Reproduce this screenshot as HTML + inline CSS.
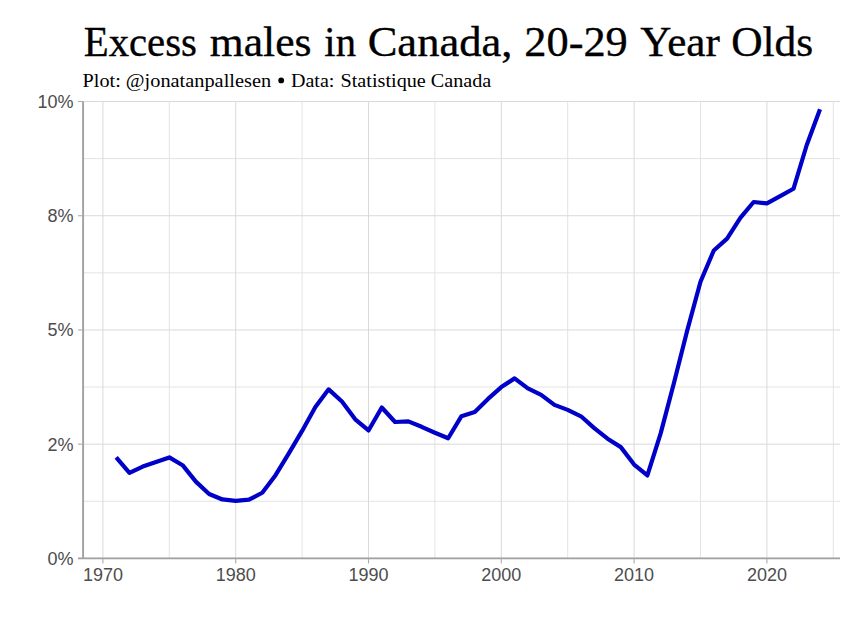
<!DOCTYPE html>
<html><head><meta charset="utf-8"><style>
html,body{margin:0;padding:0;background:#fff;}
body{width:849px;height:636px;overflow:hidden;position:relative;}
svg{position:absolute;left:0;top:0;}
.t{font-family:"Liberation Serif",serif;fill:#000;}
.ax{font-family:"Liberation Sans",sans-serif;fill:#4d4d4d;font-size:18px;}
</style></head><body>
<svg width="849" height="636" viewBox="0 0 849 636">
<rect width="849" height="636" fill="#fff"/>
<g class="t"><text x="83.75" y="55.6" font-size="41.2" textLength="113.17" lengthAdjust="spacingAndGlyphs" stroke="#000" stroke-width="0.35">Excess</text><text x="209.80" y="55.6" font-size="41.2" textLength="101.65" lengthAdjust="spacingAndGlyphs" stroke="#000" stroke-width="0.35">males</text><text x="324.36" y="55.6" font-size="41.2" textLength="31.60" lengthAdjust="spacingAndGlyphs" stroke="#000" stroke-width="0.35">in</text><text x="367.66" y="55.6" font-size="41.2" textLength="144.72" lengthAdjust="spacingAndGlyphs" stroke="#000" stroke-width="0.35">Canada,</text><text x="524.27" y="55.6" font-size="41.2" textLength="103.51" lengthAdjust="spacingAndGlyphs" stroke="#000" stroke-width="0.35">20-29</text><text x="640.38" y="55.6" font-size="41.2" textLength="79.43" lengthAdjust="spacingAndGlyphs" stroke="#000" stroke-width="0.35">Year</text><text x="731.21" y="55.6" font-size="41.2" textLength="82.01" lengthAdjust="spacingAndGlyphs" stroke="#000" stroke-width="0.35">Olds</text></g>
<g class="t"><text x="82.58" y="86.9" font-size="18" textLength="38.16" lengthAdjust="spacingAndGlyphs" stroke="#000" stroke-width="0">Plot:</text><text x="125.87" y="86.9" font-size="18" textLength="145.23" lengthAdjust="spacingAndGlyphs" stroke="#000" stroke-width="0">@jonatanpallesen</text><text x="290.99" y="86.9" font-size="18" textLength="43.41" lengthAdjust="spacingAndGlyphs" stroke="#000" stroke-width="0">Data:</text><text x="340.48" y="86.9" font-size="18" textLength="85.35" lengthAdjust="spacingAndGlyphs" stroke="#000" stroke-width="0">Statistique</text><text x="430.88" y="86.9" font-size="18" textLength="60.40" lengthAdjust="spacingAndGlyphs" stroke="#000" stroke-width="0">Canada</text></g>
<circle cx="281.2" cy="80.4" r="2.9" fill="#000"/>
<line x1="83.1" x2="840.0" y1="501.29" y2="501.29" stroke="#e3e3e3" stroke-width="1"/><line x1="83.1" x2="840.0" y1="387.06" y2="387.06" stroke="#e3e3e3" stroke-width="1"/><line x1="83.1" x2="840.0" y1="272.84" y2="272.84" stroke="#e3e3e3" stroke-width="1"/><line x1="83.1" x2="840.0" y1="158.61" y2="158.61" stroke="#e3e3e3" stroke-width="1"/><line x1="169.30" x2="169.30" y1="101.5" y2="558.4" stroke="#e3e3e3" stroke-width="1"/><line x1="302.10" x2="302.10" y1="101.5" y2="558.4" stroke="#e3e3e3" stroke-width="1"/><line x1="434.90" x2="434.90" y1="101.5" y2="558.4" stroke="#e3e3e3" stroke-width="1"/><line x1="567.70" x2="567.70" y1="101.5" y2="558.4" stroke="#e3e3e3" stroke-width="1"/><line x1="700.50" x2="700.50" y1="101.5" y2="558.4" stroke="#e3e3e3" stroke-width="1"/><line x1="833.30" x2="833.30" y1="101.5" y2="558.4" stroke="#e3e3e3" stroke-width="1"/><line x1="83.1" x2="840.0" y1="558.40" y2="558.40" stroke="#d9d9d9" stroke-width="1"/><line x1="83.1" x2="840.0" y1="444.17" y2="444.17" stroke="#d9d9d9" stroke-width="1"/><line x1="83.1" x2="840.0" y1="329.95" y2="329.95" stroke="#d9d9d9" stroke-width="1"/><line x1="83.1" x2="840.0" y1="215.73" y2="215.73" stroke="#d9d9d9" stroke-width="1"/><line x1="83.1" x2="840.0" y1="101.50" y2="101.50" stroke="#d9d9d9" stroke-width="1"/><line x1="102.90" x2="102.90" y1="101.5" y2="558.4" stroke="#d9d9d9" stroke-width="1"/><line x1="235.70" x2="235.70" y1="101.5" y2="558.4" stroke="#d9d9d9" stroke-width="1"/><line x1="368.50" x2="368.50" y1="101.5" y2="558.4" stroke="#d9d9d9" stroke-width="1"/><line x1="501.30" x2="501.30" y1="101.5" y2="558.4" stroke="#d9d9d9" stroke-width="1"/><line x1="634.10" x2="634.10" y1="101.5" y2="558.4" stroke="#d9d9d9" stroke-width="1"/><line x1="766.90" x2="766.90" y1="101.5" y2="558.4" stroke="#d9d9d9" stroke-width="1"/>
<line x1="83.1" x2="83.1" y1="101.5" y2="558.4" stroke="#a0a0a0" stroke-width="1.9"/><line x1="78" x2="840.0" y1="558.4" y2="558.4" stroke="#a0a0a0" stroke-width="1.9"/><line x1="78" x2="83.1" y1="444.17" y2="444.17" stroke="#ababab" stroke-width="1.1"/><line x1="78" x2="83.1" y1="329.95" y2="329.95" stroke="#ababab" stroke-width="1.1"/><line x1="78" x2="83.1" y1="215.73" y2="215.73" stroke="#ababab" stroke-width="1.1"/><line x1="78" x2="83.1" y1="101.50" y2="101.50" stroke="#ababab" stroke-width="1.1"/><line x1="102.90" x2="102.90" y1="558.4" y2="563.5" stroke="#ababab" stroke-width="1.1"/><line x1="235.70" x2="235.70" y1="558.4" y2="563.5" stroke="#ababab" stroke-width="1.1"/><line x1="368.50" x2="368.50" y1="558.4" y2="563.5" stroke="#ababab" stroke-width="1.1"/><line x1="501.30" x2="501.30" y1="558.4" y2="563.5" stroke="#ababab" stroke-width="1.1"/><line x1="634.10" x2="634.10" y1="558.4" y2="563.5" stroke="#ababab" stroke-width="1.1"/><line x1="766.90" x2="766.90" y1="558.4" y2="563.5" stroke="#ababab" stroke-width="1.1"/>
<polyline points="116.18,457.43 129.46,472.96 142.74,466.56 156.02,461.99 169.30,457.43 182.58,465.19 195.86,481.64 209.14,493.98 222.42,499.46 235.70,500.83 248.98,499.69 262.26,492.74 275.54,475.15 288.82,453.31 302.10,430.92 315.38,407.07 328.66,389.35 341.94,401.50 355.22,419.27 368.50,430.47 381.78,407.49 395.06,422.02 408.34,421.33 421.62,426.81 434.90,432.75 448.18,438.24 461.46,416.17 474.74,411.96 488.02,398.94 501.30,387.06 514.58,378.38 527.86,388.43 541.14,394.83 554.42,404.88 567.70,409.91 580.98,416.30 594.26,428.18 607.54,438.69 620.82,447.14 634.10,464.51 647.38,475.47 660.66,433.39 673.94,382.95 687.22,330.41 700.50,281.75 713.78,250.45 727.06,238.57 740.34,217.83 753.62,202.02 766.90,203.39 780.18,196.08 793.46,188.77 806.74,145.00 820.02,109.27" fill="none" stroke="#0000c8" stroke-width="4.2" stroke-linejoin="round" stroke-linecap="butt"/>
<g class="ax"><text x="73.5" y="564.85" text-anchor="end">0%</text><text x="73.5" y="450.62" text-anchor="end">2%</text><text x="73.5" y="336.40" text-anchor="end">5%</text><text x="73.5" y="222.18" text-anchor="end">8%</text><text x="73.5" y="107.95" text-anchor="end">10%</text><text x="102.90" y="580.9" text-anchor="middle">1970</text><text x="235.70" y="580.9" text-anchor="middle">1980</text><text x="368.50" y="580.9" text-anchor="middle">1990</text><text x="501.30" y="580.9" text-anchor="middle">2000</text><text x="634.10" y="580.9" text-anchor="middle">2010</text><text x="766.90" y="580.9" text-anchor="middle">2020</text></g>
</svg>
</body></html>
